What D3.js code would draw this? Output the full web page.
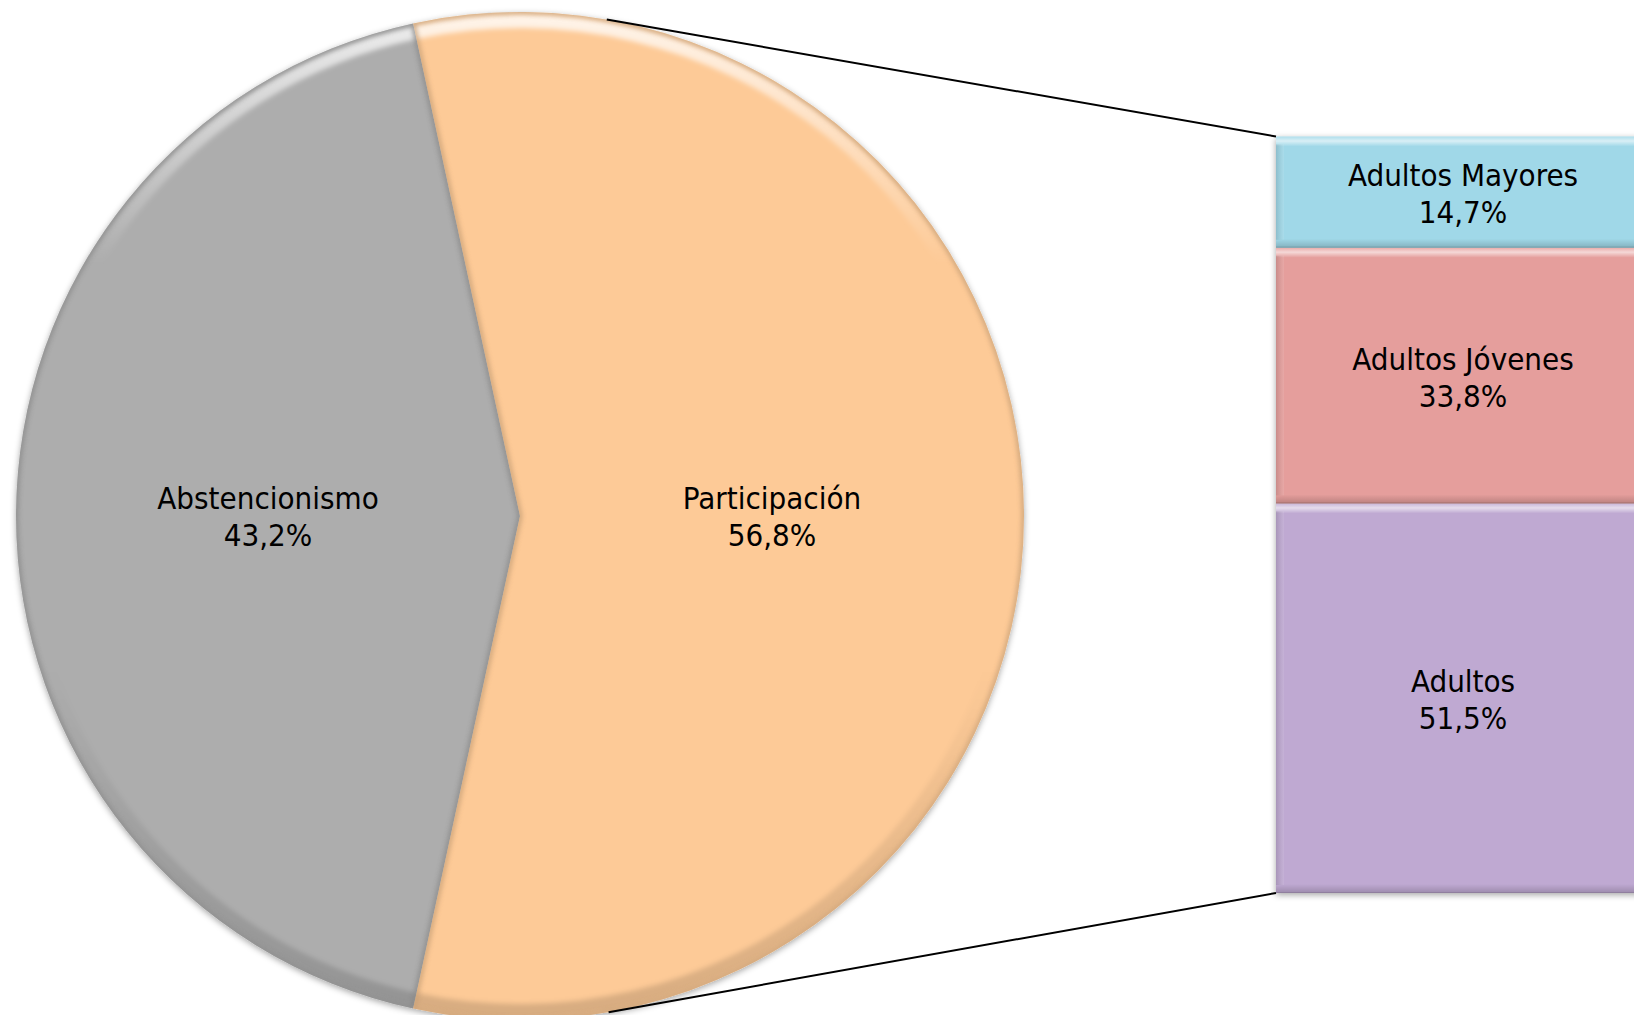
<!DOCTYPE html>
<html>
<head>
<meta charset="utf-8">
<script src="https://cdn.jsdelivr.net/npm/d3@7"></script>
<style>
  html, body { margin: 0; padding: 0; background: #ffffff; }
  svg { display: block; }
  text { font-family: "DejaVu Sans Condensed", "DejaVu Sans", sans-serif; font-size: 31px; fill: #000; }
</style>
</head>
<body>
<svg id="chart" width="1634" height="1015"></svg>
<script>
// ---- Data ----
const pieCategories = ["Abstencionismo", "Participación"];
const pieValues = [43.2, 56.8];
const pieColors = ["#ADADAD", "#FDCA97"];

const barCategories = ["Adultos Mayores", "Adultos Jóvenes", "Adultos"];
const barValues = [14.7, 33.8, 51.5];
const barColors = ["#A0D8E8", "#E59E9C", "#BFA9D2"];

const fmt = v => d3.format(".1f")(v).replace(".", ",") + "%";

// ---- Layout ----
const W = 1634, H = 1015;
const cx = 520, cy = 516, R = 504;
const barX = 1276, barW = 374, barTop = 136.5, barBottom = 893;

const svg = d3.select("#chart");
const defs = svg.append("defs");

// drop shadow
const sh = defs.append("filter").attr("id", "shadow").attr("x", "-10%").attr("y", "-10%").attr("width", "120%").attr("height", "120%");
sh.append("feDropShadow").attr("dx", 0).attr("dy", 2).attr("stdDeviation", 3).attr("flood-color", "#000").attr("flood-opacity", 0.35);

const blur = defs.append("filter").attr("id", "blur");
blur.append("feGaussianBlur").attr("stdDeviation", 2.5);

// rim gradient for pie bevel (local coords, centred on pie)
const rimGrad = defs.append("linearGradient").attr("id", "rimGrad")
  .attr("gradientUnits", "userSpaceOnUse")
  .attr("x1", 0).attr("y1", -R).attr("x2", 0).attr("y2", R);
rimGrad.append("stop").attr("offset", "0%").attr("stop-color", "#fff").attr("stop-opacity", 0.8);
rimGrad.append("stop").attr("offset", "25%").attr("stop-color", "#fff").attr("stop-opacity", 0);
rimGrad.append("stop").attr("offset", "65%").attr("stop-color", "#000").attr("stop-opacity", 0);
rimGrad.append("stop").attr("offset", "100%").attr("stop-color", "#000").attr("stop-opacity", 0.15);

// ---- Pie ----
const total = d3.sum(pieValues);
const partFrac = pieValues[1] / total;
// Participación centered at 3 o'clock
const startA = Math.PI / 2 + Math.PI * partFrac;
const pie = d3.pie().sort(null).startAngle(startA).endAngle(startA + 2 * Math.PI);
const arcs = pie(pieValues);
const arc = d3.arc().innerRadius(0).outerRadius(R);
const rimArc = d3.arc().innerRadius(R - 16).outerRadius(R - 2);
const labelArc = d3.arc().innerRadius(0).outerRadius(R);

const pieG = svg.append("g").attr("transform", `translate(${cx},${cy})`);
pieG.append("g").attr("filter", "url(#shadow)")
  .selectAll("path").data(arcs).join("path")
  .attr("d", arc)
  .attr("fill", (d, i) => pieColors[i]);

// clip paths per slice for bevel effects
arcs.forEach((d, i) => {
  defs.append("clipPath").attr("id", "sliceClip" + i)
    .append("path").attr("d", arc(d));
});

const bevelG = pieG.append("g");
arcs.forEach((d, i) => {
  const g = bevelG.append("g").attr("clip-path", `url(#sliceClip${i})`);
  // outer rim bevel
  g.append("path").attr("d", rimArc(d)).attr("fill", "url(#rimGrad)").attr("filter", "url(#blur)");
  // edge shade along slice outline
  g.append("path").attr("d", arc(d)).attr("fill", "none")
    .attr("stroke", d3.color(pieColors[i]).darker(1.2)).attr("stroke-width", 4)
    .attr("opacity", 0.6).attr("filter", "url(#blur)");
});

// pie labels
const pieLab = pieG.selectAll("text.pl").data(arcs).join("text")
  .attr("class", "pl")
  .attr("text-anchor", "middle")
  .attr("transform", d => { const c = labelArc.centroid(d); return `translate(${c[0]},${c[1]})`; });
pieLab.append("tspan").attr("x", 0).attr("y", -7).text((d, i) => pieCategories[i]);
pieLab.append("tspan").attr("x", 0).attr("y", 30).text((d, i) => fmt(pieValues[i]));

// ---- Bar (stacked) ----
const y = d3.scaleLinear().domain([0, d3.sum(barValues)]).range([barTop, barBottom]);
let acc = 0;
const segs = barValues.map((v, i) => { const s = { i, y0: acc, y1: acc + v, v }; acc += v; return s; });

const barG = svg.append("g");
barG.append("g").attr("filter", "url(#shadow)")
  .selectAll("rect").data(segs).join("rect")
  .attr("x", barX).attr("width", barW)
  .attr("y", d => y(d.y0)).attr("height", d => y(d.y1) - y(d.y0))
  .attr("fill", d => barColors[d.i]);

// bevels on bar segments
const topGrad = defs.append("linearGradient").attr("id", "topBevel").attr("x1", 0).attr("y1", 0).attr("x2", 0).attr("y2", 1);
topGrad.append("stop").attr("offset", "0%").attr("stop-color", "#fff").attr("stop-opacity", 0.15);
topGrad.append("stop").attr("offset", "45%").attr("stop-color", "#fff").attr("stop-opacity", 0.6);
topGrad.append("stop").attr("offset", "100%").attr("stop-color", "#fff").attr("stop-opacity", 0);
const botGrad = defs.append("linearGradient").attr("id", "botBevel").attr("x1", 0).attr("y1", 0).attr("x2", 0).attr("y2", 1);
botGrad.append("stop").attr("offset", "0%").attr("stop-color", "#000").attr("stop-opacity", 0);
botGrad.append("stop").attr("offset", "100%").attr("stop-color", "#000").attr("stop-opacity", 0.18);
const leftGrad = defs.append("linearGradient").attr("id", "leftBevel").attr("x1", 0).attr("y1", 0).attr("x2", 1).attr("y2", 0);
leftGrad.append("stop").attr("offset", "0%").attr("stop-color", "#000").attr("stop-opacity", 0.12);
leftGrad.append("stop").attr("offset", "100%").attr("stop-color", "#fff").attr("stop-opacity", 0.1);

segs.forEach(d => {
  const ty = y(d.y0), by = y(d.y1);
  barG.append("rect").attr("x", barX).attr("width", barW).attr("y", ty).attr("height", 10).attr("fill", "url(#topBevel)");
  barG.append("rect").attr("x", barX).attr("width", barW).attr("y", by - 9).attr("height", 9).attr("fill", "url(#botBevel)");
  barG.append("rect").attr("x", barX).attr("width", 8).attr("y", ty + 8).attr("height", by - ty - 16).attr("fill", "url(#leftBevel)");
  barG.append("line").attr("x1", barX).attr("x2", barX + barW).attr("y1", by - 0.5).attr("y2", by - 0.5)
    .attr("stroke", d3.color(barColors[d.i]).darker(0.8)).attr("stroke-width", 1.2);
});

const barLab = barG.selectAll("text.bl").data(segs).join("text")
  .attr("class", "bl").attr("text-anchor", "middle")
  .attr("transform", d => `translate(${barX + barW / 2},${(y(d.y0) + y(d.y1)) / 2})`);
barLab.append("tspan").attr("x", 0).attr("y", -6).text(d => barCategories[d.i]);
barLab.append("tspan").attr("x", 0).attr("y", 31).text(d => fmt(d.v));

// ---- Series lines (tangents from bar corners to pie circle) ----
function tangentPoint(px, py, upper) {
  const dx = px - cx, dy = py - cy;
  const d = Math.hypot(dx, dy);
  const base = Math.atan2(dy, dx);
  const off = Math.acos(R / d);
  const a = upper ? base - off : base + off;
  return [cx + R * Math.cos(a), cy + R * Math.sin(a)];
}
const corners = [[barX, y(0), true], [barX, y(d3.sum(barValues)), false]];
svg.append("g").selectAll("line").data(corners).join("line")
  .attr("x1", d => tangentPoint(d[0], d[1], d[2])[0])
  .attr("y1", d => tangentPoint(d[0], d[1], d[2])[1])
  .attr("x2", d => d[0]).attr("y2", d => d[1])
  .attr("stroke", "#000").attr("stroke-width", 2);
</script>
</body>
</html>
